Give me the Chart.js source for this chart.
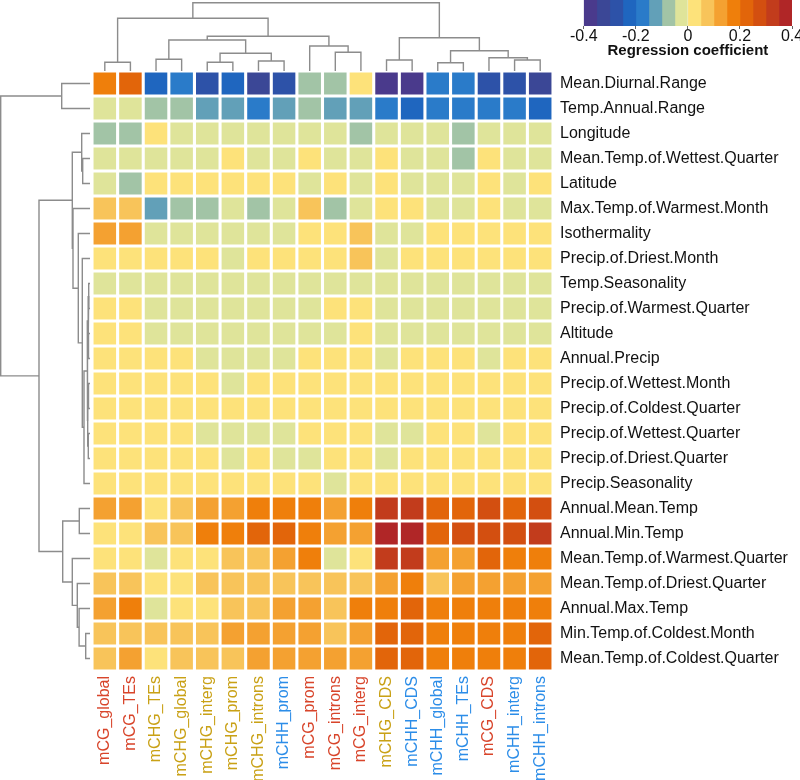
<!DOCTYPE html>
<html>
<head>
<meta charset="utf-8">
<script src="https://cdn.jsdelivr.net/npm/chart.js@4.4.1/dist/chart.umd.min.js"></script>
<style>
  html, body { margin: 0; padding: 0; background: #fff; overflow: hidden; }
  #wrap { position: relative; width: 800px; height: 780px; }
  canvas { position: absolute; }
</style>
</head>
<body>
<div id="wrap">
  <canvas id="heat" width="800" height="780" style="left:0;top:0"></canvas>
  <canvas id="topDend" width="461" height="71" style="left:92px;top:0"></canvas>
  <canvas id="leftDend" width="90" height="600" style="left:0;top:71px"></canvas>
  <canvas id="legend" width="240" height="58" style="left:570px;top:0"></canvas>
</div>
<script>
// rows (climate variables) and columns (methylation contexts), in dendrogram order
const rowLabels = [
  "Mean.Diurnal.Range", "Temp.Annual.Range", "Longitude", "Mean.Temp.of.Wettest.Quarter",
  "Latitude", "Max.Temp.of.Warmest.Month", "Isothermality", "Precip.of.Driest.Month",
  "Temp.Seasonality", "Precip.of.Warmest.Quarter", "Altitude", "Annual.Precip",
  "Precip.of.Wettest.Month", "Precip.of.Coldest.Quarter", "Precip.of.Wettest.Quarter",
  "Precip.of.Driest.Quarter", "Precip.Seasonality", "Annual.Mean.Temp", "Annual.Min.Temp",
  "Mean.Temp.of.Warmest.Quarter", "Mean.Temp.of.Driest.Quarter", "Annual.Max.Temp",
  "Min.Temp.of.Coldest.Month", "Mean.Temp.of.Coldest.Quarter",
];
const colLabels = [
  "mCG_global", "mCG_TEs", "mCHG_TEs", "mCHG_global", "mCHG_interg", "mCHG_prom",
  "mCHG_introns", "mCHH_prom", "mCG_prom", "mCG_introns", "mCG_interg", "mCHG_CDS",
  "mCHH_CDS", "mCHH_global", "mCHH_TEs", "mCG_CDS", "mCHH_interg", "mCHH_introns",
];

// regression coefficients, one array per row
const coef = [
  [0.17, 0.22, -0.23, -0.18, -0.28, -0.23, -0.33, -0.28, -0.07, -0.07, 0.02, -0.38, -0.38, -0.18, -0.18, -0.28, -0.28, -0.33],
  [-0.02, -0.02, -0.07, -0.07, -0.12, -0.12, -0.18, -0.12, -0.07, -0.12, -0.12, -0.18, -0.23, -0.18, -0.18, -0.18, -0.18, -0.23],
  [-0.07, -0.07, 0.02, -0.02, -0.02, -0.02, -0.02, -0.02, -0.02, -0.02, -0.07, -0.02, -0.02, -0.02, -0.07, -0.02, -0.02, -0.02],
  [-0.02, -0.02, -0.02, -0.02, -0.02, 0.02, -0.02, -0.02, 0.02, -0.02, -0.02, 0.02, -0.02, -0.02, -0.07, 0.02, -0.02, -0.02],
  [-0.02, -0.07, 0.02, 0.02, 0.02, 0.02, 0.02, 0.02, -0.02, 0.02, -0.02, 0.02, -0.02, -0.02, -0.02, 0.02, -0.02, 0.02],
  [0.07, 0.07, -0.12, -0.07, -0.07, -0.02, -0.07, -0.02, 0.07, -0.07, -0.02, 0.02, 0.02, -0.02, -0.02, 0.02, -0.02, -0.02],
  [0.12, 0.12, -0.02, -0.02, -0.02, -0.02, -0.02, -0.02, 0.02, 0.02, 0.07, -0.02, -0.02, 0.02, 0.02, 0.02, 0.02, 0.02],
  [0.02, 0.02, 0.02, 0.02, 0.02, -0.02, 0.02, 0.02, 0.02, 0.02, 0.07, -0.02, 0.02, 0.02, 0.02, 0.02, 0.02, 0.02],
  [-0.02, -0.02, -0.02, -0.02, -0.02, -0.02, -0.02, -0.02, -0.02, -0.02, -0.02, -0.02, -0.02, -0.02, -0.02, -0.02, -0.02, -0.02],
  [0.02, 0.02, -0.02, -0.02, -0.02, -0.02, -0.02, -0.02, -0.02, 0.02, 0.02, -0.02, -0.02, -0.02, -0.02, -0.02, -0.02, -0.02],
  [0.02, 0.02, -0.02, -0.02, -0.02, -0.02, -0.02, -0.02, -0.02, -0.02, 0.02, -0.02, -0.02, -0.02, -0.02, -0.02, -0.02, -0.02],
  [0.02, 0.02, 0.02, 0.02, -0.02, -0.02, -0.02, -0.02, 0.02, 0.02, 0.02, -0.02, 0.02, 0.02, 0.02, -0.02, 0.02, 0.02],
  [0.02, 0.02, 0.02, 0.02, 0.02, -0.02, 0.02, 0.02, 0.02, 0.02, 0.02, 0.02, 0.02, 0.02, 0.02, 0.02, 0.02, 0.02],
  [0.02, 0.02, 0.02, 0.02, 0.02, 0.02, 0.02, 0.02, 0.02, 0.02, 0.02, 0.02, 0.02, 0.02, 0.02, 0.02, 0.02, 0.02],
  [0.02, 0.02, 0.02, 0.02, -0.02, -0.02, -0.02, -0.02, 0.02, 0.02, 0.02, -0.02, -0.02, 0.02, 0.02, -0.02, 0.02, 0.02],
  [0.02, 0.02, 0.02, 0.02, 0.02, -0.02, 0.02, -0.02, -0.02, 0.02, 0.02, -0.02, 0.02, 0.02, 0.02, 0.02, 0.02, 0.02],
  [0.02, 0.02, 0.02, 0.02, 0.02, 0.02, 0.02, 0.02, 0.02, -0.02, 0.02, 0.02, 0.02, 0.02, 0.02, 0.02, 0.02, 0.02],
  [0.12, 0.12, 0.02, 0.07, 0.12, 0.12, 0.17, 0.17, 0.17, 0.12, 0.17, 0.33, 0.33, 0.22, 0.22, 0.28, 0.22, 0.28],
  [0.02, 0.02, 0.07, 0.07, 0.17, 0.17, 0.22, 0.22, 0.17, 0.12, 0.12, 0.38, 0.38, 0.22, 0.28, 0.28, 0.28, 0.33],
  [0.02, 0.02, -0.02, 0.02, 0.02, 0.07, 0.07, 0.12, 0.17, -0.02, 0.02, 0.33, 0.33, 0.12, 0.12, 0.22, 0.17, 0.17],
  [0.07, 0.07, 0.02, 0.02, 0.07, 0.07, 0.07, 0.07, 0.07, 0.07, 0.07, 0.12, 0.17, 0.07, 0.12, 0.12, 0.12, 0.12],
  [0.12, 0.17, -0.02, 0.02, 0.02, 0.07, 0.07, 0.12, 0.12, 0.07, 0.17, 0.17, 0.22, 0.17, 0.17, 0.17, 0.17, 0.17],
  [0.07, 0.07, 0.07, 0.07, 0.07, 0.12, 0.12, 0.12, 0.12, 0.07, 0.12, 0.22, 0.22, 0.17, 0.17, 0.17, 0.17, 0.22],
  [0.07, 0.12, 0.02, 0.07, 0.07, 0.07, 0.12, 0.12, 0.12, 0.12, 0.12, 0.22, 0.22, 0.17, 0.17, 0.17, 0.17, 0.22],
];

// colour key: bin edges and tick labels
const breaks = [-0.4, -0.35, -0.3, -0.25, -0.2, -0.15, -0.1, -0.05, 0, 0.05, 0.1, 0.15, 0.2, 0.25, 0.3, 0.35, 0.4];
const legendTicks = [-0.4, -0.2, 0, 0.2, 0.4];

// dendrogram merges: [childA, childB, height]; ids < n are leaves, n + k is merge k
const topMerges = [
  [0, 1, 8.7], [2, 3, 11.7], [4, 5, 8.7], [6, 7, 10], [20, 21, 17.7], [19, 22, 31],
  [9, 10, 18.7], [8, 24, 25], [23, 25, 34.7], [18, 26, 52.7],
  [11, 12, 11], [13, 14, 8.3], [16, 17, 11], [15, 30, 13.3], [29, 31, 20.3], [28, 32, 33.3],
  [27, 33, 68.3],
];
const leftMerges = [
  [0, 1, 28.3], [3, 4, 7.3], [2, 25, 8.3], [8, 9, 1.3], [10, 11, 1.5], [27, 28, 2.0],
  [12, 13, 1.5], [14, 15, 1.7], [30, 31, 2.3], [29, 32, 2.7], [33, 16, 6.0], [7, 34, 7.7],
  [6, 35, 11.7], [5, 36, 17.0], [26, 37, 17.7], [22, 23, 4.3], [21, 39, 10.9], [20, 40, 12.7],
  [19, 41, 17.7], [17, 18, 10.7], [43, 42, 27.3], [38, 44, 51.0], [24, 45, 89.3],
];

const palette = [
  "#4a3a8c", "#3b4796", "#2d52a8", "#1f66bf", "#2a7bc9", "#62a0b8", "#a2c4a6", "#dfe49a",
  "#fde27a", "#f8c45a", "#f4a131", "#ef7f0b", "#e2650a", "#d34f10", "#c23c1c", "#b02627",
];
const groupColors = { mCG: "#d8452b", mCHG: "#c9a116", mCHH: "#2c8de8" };
const FONT = "'Liberation Sans', Arial, Helvetica, sans-serif";
Chart.defaults.font.family = FONT;

const binColor = (v) => {
  let k = breaks.findIndex((b, i) => i < breaks.length - 1 && v >= b && v < breaks[i + 1]);
  if (k < 0) k = v < 0 ? 0 : palette.length - 1;
  return palette[k];
};

// line pieces for each merge of a dendrogram (position along leaves, height)
function dendroSegments(merges, n) {
  const pos = [], ht = [];
  for (let i = 0; i < n; i++) { pos[i] = i + 0.5; ht[i] = 0; }
  return merges.map(([a, b, h], k) => {
    pos[n + k] = (pos[a] + pos[b]) / 2;
    ht[n + k] = h;
    return [[pos[a], ht[a]], [pos[a], h], [pos[b], h], [pos[b], ht[b]]];
  });
}

const dendroLine = { showLine: true, borderColor: "#8c8c8c", borderWidth: 1.4, pointRadius: 0, clip: false };
const noPlugins = { legend: { display: false }, tooltip: { enabled: false } };

// top dendrogram (columns)
new Chart(document.getElementById("topDend"), {
  type: "scatter",
  data: {
    datasets: dendroSegments(topMerges, colLabels.length).map((seg) => ({
      ...dendroLine,
      data: seg.map(([p, h]) => ({ x: p, y: h })),
    })),
  },
  options: {
    responsive: false,
    animation: false,
    plugins: noPlugins,
    scales: {
      x: { type: "linear", display: false, min: 0, max: colLabels.length },
      y: { type: "linear", display: false, min: 0, max: 71 },
    },
  },
});

// left dendrogram (rows)
new Chart(document.getElementById("leftDend"), {
  type: "scatter",
  data: {
    datasets: dendroSegments(leftMerges, rowLabels.length).map((seg) => ({
      ...dendroLine,
      data: seg.map(([p, h]) => ({ x: h, y: p })),
    })),
  },
  options: {
    responsive: false,
    animation: false,
    plugins: noPlugins,
    scales: {
      x: { type: "linear", display: false, min: 0, max: 90, reverse: true },
      y: { type: "linear", display: false, min: 0, max: rowLabels.length, reverse: true },
    },
  },
});

// heatmap: one floating-bar dataset per row, coloured by coefficient
new Chart(document.getElementById("heat"), {
  type: "bar",
  data: {
    labels: colLabels,
    datasets: rowLabels.map((name, i) => ({
      label: name,
      data: coef[i].map(() => [i + 0.06, i + 0.94]),
      backgroundColor: coef[i].map(binColor),
      borderWidth: 0,
      grouped: false,
      barPercentage: 0.88,
      categoryPercentage: 1,
    })),
  },
  options: {
    responsive: false,
    animation: false,
    layout: { padding: { left: 92, top: 71, right: 0, bottom: 0 } },
    plugins: noPlugins,
    scales: {
      x: {
        position: "bottom",
        grid: { display: false, drawTicks: false },
        border: { display: false },
        ticks: {
          autoSkip: false,
          minRotation: 90,
          maxRotation: 90,
          padding: 5,
          font: { size: 16 },
          color: (ctx) => groupColors[colLabels[ctx.index].split("_")[0]],
        },
        afterFit: (s) => { s.height = 109; },
      },
      y: {
        type: "linear",
        position: "right",
        min: 0,
        max: rowLabels.length,
        reverse: true,
        grid: { display: false, drawTicks: false },
        border: { display: false },
        afterBuildTicks: (s) => { s.ticks = rowLabels.map((_, i) => ({ value: i + 0.5 })); },
        ticks: {
          autoSkip: false,
          padding: 7,
          font: { size: 16 },
          color: "#111",
          callback: (v, i) => rowLabels[i],
        },
        afterFit: (s) => { s.width = 247; },
      },
    },
  },
});

// colour key
new Chart(document.getElementById("legend"), {
  type: "bar",
  data: {
    labels: [""],
    datasets: palette.map((c, k) => ({
      data: [[breaks[k], breaks[k + 1]]],
      backgroundColor: c,
      borderWidth: 0,
      grouped: false,
      barPercentage: 1,
      categoryPercentage: 1,
    })),
  },
  options: {
    indexAxis: "y",
    responsive: false,
    animation: false,
    layout: { padding: { left: 13, right: 18, top: 0, bottom: 0 } },
    plugins: noPlugins,
    scales: {
      y: { display: false },
      x: {
        type: "linear",
        min: breaks[0],
        max: breaks[breaks.length - 1],
        afterBuildTicks: (s) => { s.ticks = legendTicks.map((v) => ({ value: v })); },
        grid: { drawOnChartArea: false, drawTicks: true, tickLength: 3, color: "#666" },
        border: { display: false },
        ticks: {
          padding: 0,
          font: { size: 16, lineHeight: 1 },
          color: "#111",
          callback: (v) => (v === 0 ? "0" : v.toFixed(1)),
        },
        title: {
          display: true,
          text: "Regression coefficient",
          color: "#111",
          font: { size: 15, weight: "bold", lineHeight: 1 },
          padding: 0,
        },
        afterFit: (s) => { s.height = 32; },
      },
    },
  },
});
</script>
</body>
</html>
